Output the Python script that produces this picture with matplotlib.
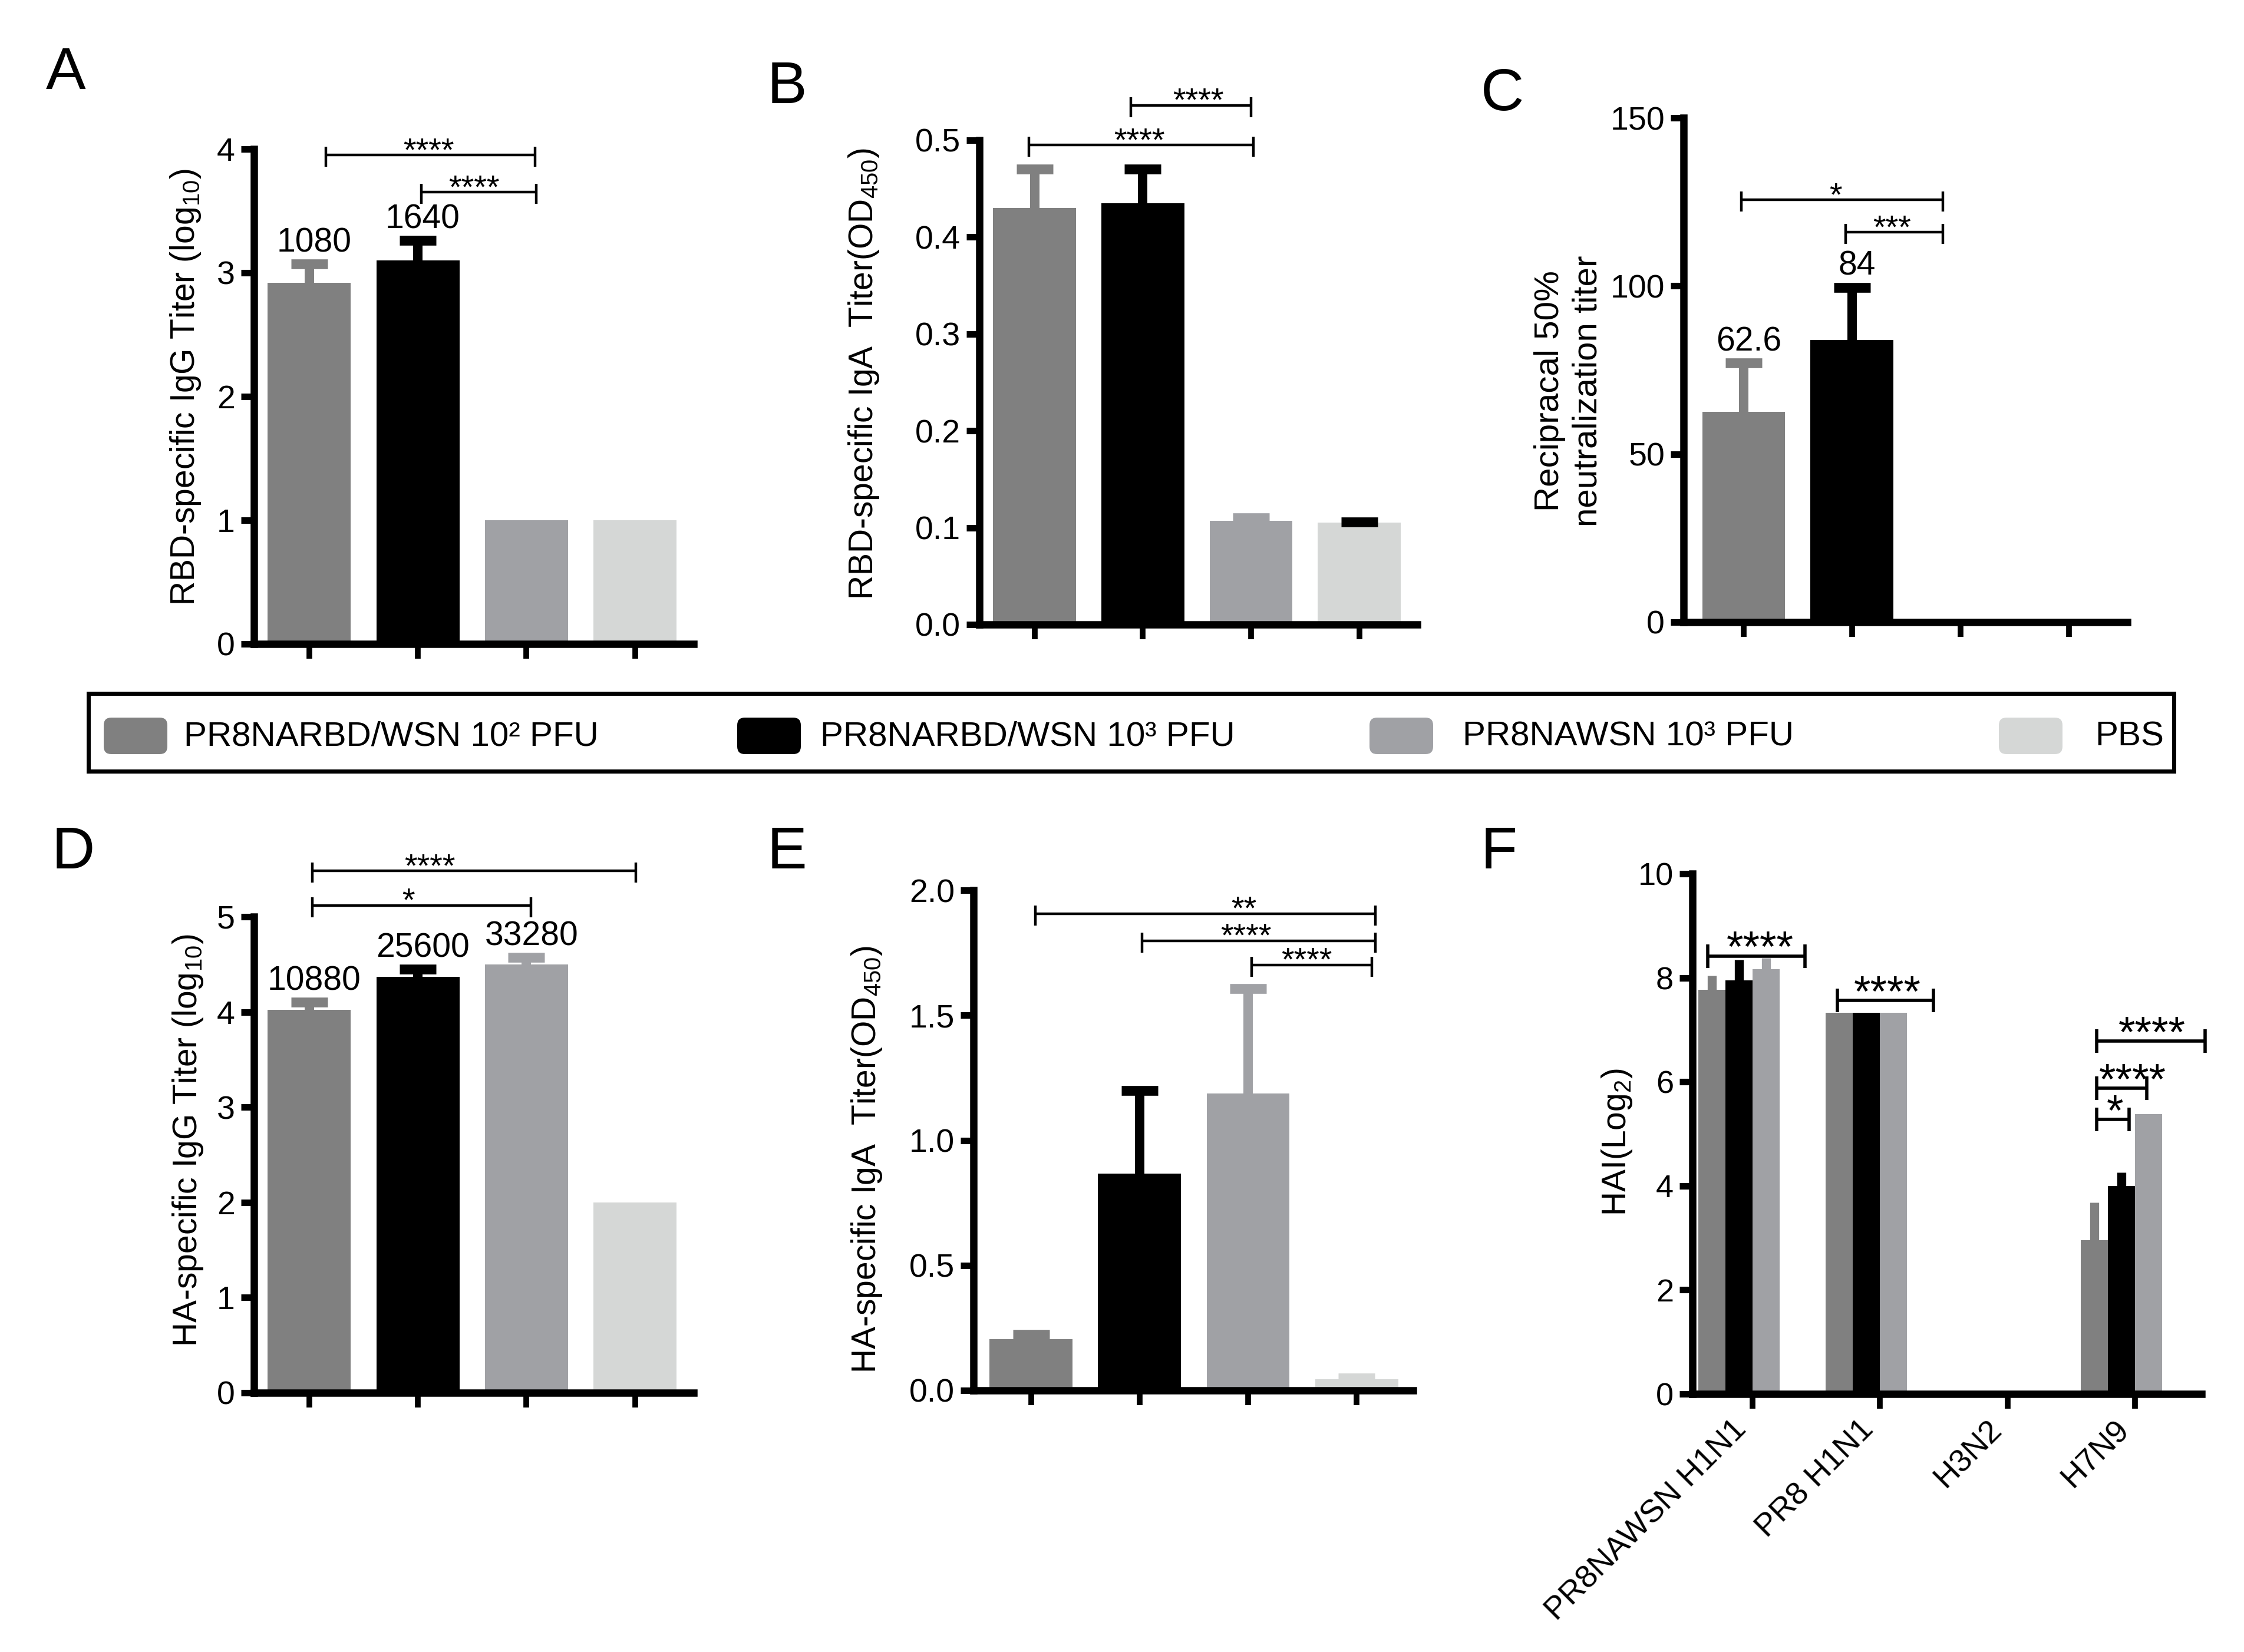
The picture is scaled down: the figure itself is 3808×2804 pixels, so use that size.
import numpy as np
import matplotlib.pyplot as plt
from matplotlib.patches import FancyBboxPatch
from matplotlib.transforms import ScaledTranslation

plt.rcParams['font.family'] = ['Liberation Sans', 'DejaVu Sans']
plt.rcParams['mathtext.fontset'] = 'custom'
plt.rcParams['mathtext.rm'] = 'Liberation Sans'
plt.rcParams['mathtext.it'] = 'Liberation Sans:italic'

W, H = 3808, 2804

groups = ['PR8NARBD/WSN 10² PFU', 'PR8NARBD/WSN 10³ PFU', 'PR8NAWSN 10³ PFU', 'PBS']
colors = ['#808080', '#000000', '#a0a1a5', '#d5d7d6']

# A: RBD IgG (log10)
rbd_igg = [2.92, 3.10, 1.0, 1.0]
rbd_igg_err = [0.15, 0.16, 0, 0]
rbd_igg_lab = ['1080', '1640', '', '']
# B: RBD IgA (OD450)
rbd_iga = [0.430, 0.435, 0.107, 0.105]
rbd_iga_err = [0.040, 0.035, 0.003, 0.001]
# C: neutralization titer
neut = [62.6, 84, 0, 0]
neut_err = [14.5, 15.6, 0, 0]
neut_lab = ['62.6', '84', '', '']
# D: HA IgG (log10)
ha_igg = [4.02, 4.37, 4.50, 2.0]
ha_igg_err = [0.08, 0.08, 0.07, 0]
ha_igg_lab = ['10880', '25600', '33280', '']
# E: HA IgA (OD450)
ha_iga = [0.206, 0.868, 1.187, 0.045]
ha_iga_err = [0.018, 0.33, 0.42, 0.005]
# F: HAI (log2), one row per group, one column per strain
strains = ['PR8NAWSN H1N1', 'PR8 H1N1', 'H3N2', 'H7N9']
hai = [[7.77, 7.33, 0, 2.96],
       [7.95, 7.33, 0, 4.00],
       [8.16, 7.33, 0, 5.38],
       [0, 0, 0, 0]]
hai_err = [[0.27, 0, 0, 0.72],
           [0.40, 0, 0, 0.26],
           [0.22, 0, 0, 0],
           [0, 0, 0, 0]]

# significance brackets: (x1, x2, y, stars, text x)
sig_A = [(0.15, 2.08, 3.95, '****', 1.10), (1.03, 2.09, 3.65, '****', 1.52)]
sig_B = [(0.89, 2.00, 0.536, '****', 1.51), (-0.05, 2.02, 0.495, '****', 0.97)]
sig_C = [(-0.02, 1.84, 125.6, '*', 0.85), (0.94, 1.84, 116, '***', 1.37)]
sig_D = [(0.03, 3.01, 5.48, '****', 1.11), (0.03, 2.04, 5.12, '*', 0.91)]
sig_E = [(0.04, 3.17, 1.906, '**', 1.96), (1.02, 3.17, 1.798, '****', 1.98),
         (2.03, 3.14, 1.702, '****', 2.54)]
sig_F = [(-0.35, 0.41, 8.42, '****', 0.06), (0.665, 1.42, 7.56, '****', 1.06),
         (2.70, 3.55, 6.78, '****', 3.13), (2.70, 3.09, 5.88, '****', 2.98),
         (2.70, 2.95, 5.28, '*', 2.84)]

fig = plt.figure(figsize=(W / 100, H / 100), dpi=100)


def make_ax(l, t, r, b):
    return fig.add_axes([l / W, 1 - b / H, (r - l) / W, (b - t) / H])


def style(ax, xlim, yticks, yticklabels, ylabel, lab_xy, lab_fs=41):
    ax.set_xlim(*xlim)
    ax.set_ylim(yticks[0], yticks[-1])
    ax.set_yticks(yticks)
    ax.set_yticklabels(yticklabels)
    for s in ['top', 'right']:
        ax.spines[s].set_visible(False)
    for s in ['left', 'bottom']:
        ax.spines[s].set_linewidth(9)
    ax.tick_params(axis='y', length=16, width=8, labelsize=40, pad=7)
    ax.tick_params(axis='x', length=18, width=7, labelsize=39, pad=6)
    ax.set_ylabel(ylabel, fontsize=lab_fs, va='center', linespacing=1.25)
    ax.yaxis.set_label_coords(*lab_xy)


def bars(ax, vals, errs, err_colors=None, labels=None):
    x = np.arange(len(vals))
    ax.bar(x, vals, width=0.765, color=colors, zorder=2)
    ax.set_xticks(x)
    ax.set_xticklabels([])
    if err_colors is None:
        err_colors = colors
    for xi, v, e, c in zip(x, vals, errs, err_colors):
        if e > 0:
            ax.errorbar(xi, v, yerr=[[0], [e]], fmt='none', ecolor=c,
                        elinewidth=11.5, capsize=0, zorder=3)
            ax.plot(xi, v + e, marker='_', ms=44, mew=12, color=c, zorder=3)
    if labels:
        for xi, v, e, t in zip(x, vals, errs, labels):
            if t:
                ax.annotate(t, (xi, v + e), xytext=(6, 15), textcoords='offset points',
                            ha='center', va='baseline', fontsize=41, annotation_clip=False)


def brackets(ax, sigs, lw=3.2, fs=40, up=14, down=20, toff=-6.5):
    pos = ax.get_position()
    y0, y1 = ax.get_ylim()
    ppu = pos.height * H / (y1 - y0)
    for x1, x2, y, s, tx in sigs:
        ax.plot([x1, x2], [y, y], color='black', lw=lw, clip_on=False,
                solid_capstyle='butt', zorder=4)
        for xe in (x1, x2):
            ax.plot([xe, xe], [y - down / ppu, y + up / ppu], color='black', lw=lw,
                    clip_on=False, solid_capstyle='butt', zorder=4)
        ax.annotate(s, (tx, y), xytext=(0, toff), textcoords='offset points',
                    ha='center', va='baseline', fontsize=fs, annotation_clip=False)


# A
axA = make_ax(431, 253, 1177, 1093)
bars(axA, rbd_igg, rbd_igg_err, labels=rbd_igg_lab)
style(axA, (-0.51, 3.54), [0, 1, 2, 3, 4], ['0', '1', '2', '3', '4'],
      'RBD-specific IgG Titer (log$\\mathregular{_{10}}$)', (-0.155, 0.519))
brackets(axA, sig_A)

# B
axB = make_ax(1662, 238, 2405, 1060)
bars(axB, rbd_iga, rbd_iga_err, err_colors=colors[:3] + ['#000000'])
style(axB, (-0.51, 3.535), [0, 0.1, 0.2, 0.3, 0.4, 0.5],
      ['0.0', '0.1', '0.2', '0.3', '0.4', '0.5'],
      'RBD-specific IgA  Titer(OD$\\mathregular{_{450}}$)', (-0.264, 0.517))
brackets(axB, sig_B)

# C
axC = make_ax(2857, 200, 3610, 1056)
bars(axC, neut, neut_err, labels=neut_lab)
style(axC, (-0.554, 3.54), [0, 50, 100, 150], ['0', '50', '100', '150'],
      'Recipracal 50%\nneutralization titer', (-0.258, 0.458), lab_fs=42)
brackets(axC, sig_C)

# D
axD = make_ax(431, 1556, 1177, 2364)
bars(axD, ha_igg, ha_igg_err, labels=ha_igg_lab)
style(axD, (-0.51, 3.54), [0, 1, 2, 3, 4, 5], ['0', '1', '2', '3', '4', '5'],
      'HA-specific IgG Titer (log$\\mathregular{_{10}}$)', (-0.150, 0.53))
brackets(axD, sig_D)

# E
axE = make_ax(1652, 1511, 2398, 2360)
bars(axE, ha_iga, ha_iga_err)
style(axE, (-0.53, 3.52), [0, 0.5, 1.0, 1.5, 2.0], ['0.0', '0.5', '1.0', '1.5', '2.0'],
      'HA-specific IgA  Titer(OD$\\mathregular{_{450}}$)', (-0.243, 0.462))
brackets(axE, sig_E)

# F
axF = make_ax(2872, 1483, 3736, 2366)
xs = np.arange(len(strains))
bw = 0.2125
for i in range(len(groups)):
    off = (i - 1.5) * bw
    axF.bar(xs + off, hai[i], width=bw, color=colors[i], zorder=2)
    for xi, v, e in zip(xs + off, hai[i], hai_err[i]):
        if e > 0:
            axF.errorbar(xi, v, yerr=[[0], [e]], fmt='none', ecolor=colors[i],
                         elinewidth=11, capsize=0, zorder=3)
axF.set_xticks(xs)
axF.set_xticklabels(strains, rotation=45, ha='right', va='center', rotation_mode='anchor')
style(axF, (-0.47, 3.52), [0, 2, 4, 6, 8, 10], ['0', '2', '4', '6', '8', '10'],
      'HAI(Log$\\mathregular{_2}$)', (-0.148, 0.484), lab_fs=41)
axF.tick_params(axis='y', labelsize=39)
axF.tick_params(axis='x', pad=20)
shift = ScaledTranslation(-13 / 72, 0, fig.dpi_scale_trans)
for lab in axF.get_xticklabels():
    lab.set_transform(lab.get_transform() + shift)
brackets(axF, sig_F, lw=4, fs=53, up=20, down=20, toff=-7)

# panel letters
for t, (px, py) in zip('ABCDEF', [(78, 151), (1302, 175), (2513, 187),
                                   (88, 1474), (1302, 1474), (2513, 1474)]):
    fig.text(px / W, 1 - py / H, t, fontsize=73, va='baseline', ha='left')

# legend box
axL = make_ax(150, 1177, 3689, 1309)
axL.set_xlim(150, 3689)
axL.set_ylim(1309, 1177)
axL.set_xticks([])
axL.set_yticks([])
for s in axL.spines.values():
    s.set_linewidth(5)
patch_x = [176, 1251, 2324, 3392]
text_x = [312, 1392, 2482, 3555]
for g, c, px, tx in zip(groups, colors, patch_x, text_x):
    axL.add_patch(FancyBboxPatch((px, 1218), 108, 62,
                                 boxstyle='round,pad=0,rounding_size=13',
                                 facecolor=c, edgecolor='none'))
    axL.text(tx, 1251, g, fontsize=42, va='center', ha='left')

fig.savefig('out.png', dpi=100)
